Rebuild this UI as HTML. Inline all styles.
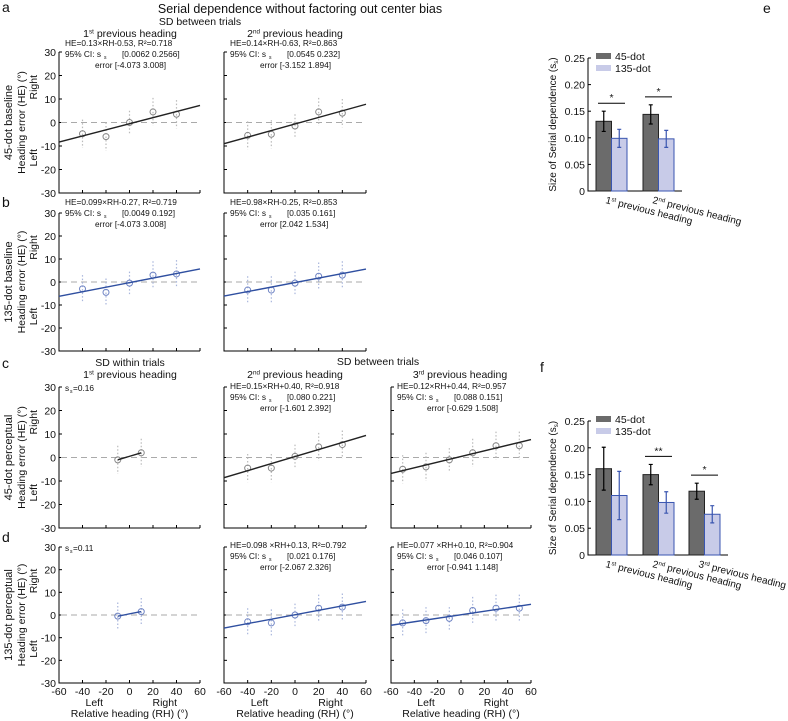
<!DOCTYPE html>
<html><head><meta charset="utf-8"><style>
html,body{margin:0;padding:0;background:#fff}
svg{display:block;font-family:"Liberation Sans",Arial,sans-serif}
</style></head><body>
<svg id="fig" width="788" height="721" viewBox="0 0 788 721" xmlns="http://www.w3.org/2000/svg">
<g id="root"></g>
</svg>
<script>
// ---- scatter data (means at relative headings) ----
const headings5 = [-40, -20, 0, 20, 40];
const headings6 = [-50, -30, -10, 10, 30, 50];
const headings2 = [-10, 10];
const aCol1Means = [-4.8, -6, 0, 4.5, 3.5];
const aCol2Means = [-5.5, -5, -1.5, 4.5, 4];
const bCol1Means = [-3, -4.5, -0.5, 3, 3.5];
const bCol2Means = [-3.5, -3.5, -0.5, 2.5, 3];
const cCol1Means = [-1, 2];
const cCol2Means = [-4.5, -4.5, 0.5, 4.5, 5.5];
const cCol3Means = [-5, -4, -1, 2, 5, 5];
const dCol1Means = [-0.5, 1.5];
const dCol2Means = [-3, -3.5, 0, 3, 3.5];
const dCol3Means = [-3.5, -2.5, -1.5, 2, 3, 3];
const errSpread = [6, 6, 5, 6, 6, 6];
// fits [slope, intercept]
const fitA1 = [0.13, -0.53], fitA2 = [0.14, -0.63];
const fitB1 = [0.099, -0.27], fitB2 = [0.098, -0.25];
const fitC1 = [0.15, 0.5], fitC2 = [0.15, 0.40], fitC3 = [0.12, 0.44];
const fitD1 = [0.1, 0.5], fitD2 = [0.098, 0.13], fitD3 = [0.077, 0.10];
const yTicks = [30, 20, 10, 0, -10, -20, -30];
const xTicks = [-60, -40, -20, 0, 20, 40, 60];
// bar data
const eCategories = ["1st", "2nd"];
const e45 = [0.131, 0.144], e45err = [0.019, 0.018];
const e135 = [0.099, 0.098], e135err = [0.017, 0.016];
const fCategories = ["1st", "2nd", "3rd"];
const f45 = [0.161, 0.150, 0.119], f45err = [0.040, 0.019, 0.015];
const f135 = [0.111, 0.098, 0.076], f135err = [0.045, 0.020, 0.016];
const barTicks = [0, 0.05, 0.10, 0.15, 0.20, 0.25];
const barTickLabels = ["0", "0.05", "0.10", "0.15", "0.20", "0.25"];

const NS = "http://www.w3.org/2000/svg";
const root = document.getElementById("root");
function mk(tag, attrs, parent, text) {
  const e = document.createElementNS(NS, tag);
  for (const k in attrs) e.setAttribute(k, attrs[k]);
  if (text !== undefined) e.textContent = text;
  (parent || root).appendChild(e);
  return e;
}
function txt(x, y, s, size, anchor, parent, name, rot) {
  const t = mk("text", {x: x, y: y, "font-size": size, "text-anchor": anchor || "start", fill: "#111"}, parent, s);
  if (rot) t.setAttribute("transform", "rotate(" + rot + " " + x + " " + y + ")");
  
  
  return t;
}
// ordinal heading text with superscript
function ordTxt(x, y, ord, rest, size, anchor, parent, name, rot) {
  const t = txt(x, y, "", size, anchor, parent, name, rot);
  const n = ord.replace(/[a-z]+/, ""), suf = ord.replace(/[0-9]+/, "");
  mk("tspan", {}, t, n);
  mk("tspan", {"font-size": size * 0.6, dy: -size * 0.35}, t, suf);
  mk("tspan", {dy: size * 0.35}, t, " " + rest);
  return t;
}

const cols = [[59, 200], [224, 366], [391, 531]];
const rows = [[52, 193], [213, 351], [387, 528], [547, 683]];
const annY = [46, 205, 389, 548];
const GRAY = "#222", BLUE = "#2f4fa0";

function panel(name, ci, ri, xs, means, fit, color, fitRange, yLabels, xLabels) {
  const g = mk("g", {});  
  const [x0, x1] = cols[ci], [yT, yB] = rows[ri];
  const X = v => x0 + (v + 60) / 120 * (x1 - x0);
  const Y = v => yT + (30 - v) / 60 * (yB - yT);
  const ax = mk("path", {d: `M${x0} ${yT}V${yB}H${x1}`, stroke: "#000", fill: "none", "stroke-width": 1}, g);
   
  yTicks.forEach(t => {
    mk("line", {x1: x0, x2: x0 + 3, y1: Y(t), y2: Y(t), stroke: "#000"}, g);
    if (yLabels) txt(x0 - 3, Y(t) + 4, String(t), 10.5, "end", g, "y-tick-label");
  });
  xTicks.forEach(t => {
    mk("line", {x1: X(t), x2: X(t), y1: yB, y2: yB - 3, stroke: "#000"}, g);
    if (xLabels) txt(X(t), yB + 12, String(t), 10.5, "middle", g, "x-tick-label");
  });
  const z = mk("line", {x1: x0 + 2, x2: x1, y1: Y(0), y2: Y(0), stroke: "#aaa", "stroke-dasharray": "6 4", "stroke-width": 1}, g);
   
  const light = color === GRAY ? "#bbb" : "#a9b6dc";
  xs.forEach((v, i) => {
    const m = means[i], s = errSpread[i];
    const eb = mk("line", {x1: X(v), x2: X(v), y1: Y(m + s), y2: Y(m - s), stroke: light, "stroke-dasharray": "1.5 2", "stroke-width": 1.2}, g);
     
    const c = mk("circle", {cx: X(v), cy: Y(m), r: 3, fill: "none", stroke: color === GRAY ? "#888" : "#6f84c4", "stroke-width": 1}, g);
     
  });
  const [a, b] = fit, [f0, f1] = fitRange;
  const l = mk("line", {x1: X(f0), x2: X(f1), y1: Y(a * f0 + b), y2: Y(a * f1 + b), stroke: color, "stroke-width": 1.4}, g);
   
  if (xLabels) {
    txt(X(-30), yB + 23, "Left", 10.5, "middle", g, "x-left-label");
    txt(X(30), yB + 23, "Right", 10.5, "middle", g, "x-right-label");
    txt(X(0), yB + 34, "Relative heading (RH) (°)", 10.5, "middle", g, "x-axis-title");
  }
  return g;
}
function annot(ci, ri, l1, ci1, ci2) {
  const x = cols[ci][0] + 6, y = annY[ri];
  txt(x, y, l1, 8.3, "start", null, "fit-equation");
  txt(x, y + 11, "95% CI:  s", 8.3, "start", null, "ci-label");
  txt(x + 39, y + 13, "s", 5, "start", null, "subscript");
  txt(x + 57, y + 11, ci1, 8.3, "start", null, "ci-slope");
  txt(x + 30, y + 22, ci2, 8.3, "start", null, "ci-error");
}
function rowLabels(ri, l1) {
  const [yT, yB] = rows[ri], mid = (yT + yB) / 2, q = (yB - yT) / 4;
  txt(12, mid, l1, 11, "middle", null, "row-label", -90);
  txt(25, mid, "Heading error (HE) (°)", 10.5, "middle", null, "y-axis-title", -90);
  txt(37, yT + q, "Right", 10.5, "middle", null, "y-right-label", -90);
  txt(37, yB - q, "Left", 10.5, "middle", null, "y-left-label", -90);
}

txt(300, 13, "Serial dependence without factoring out center bias", 12.5, "middle", null, "figure-title");
txt(200, 25, "SD between trials", 10.5, "middle", null, "sd-between-title");
ordTxt(130, 37, "1st", "previous heading", 10.5, "middle", null, "col-title-1st");
ordTxt(295, 37, "2nd", "previous heading", 10.5, "middle", null, "col-title-2nd");
txt(2, 12, "a", 14, "start", null, "panel-a-label");
txt(2, 207, "b", 14, "start", null, "panel-b-label");
txt(2, 368, "c", 14, "start", null, "panel-c-label");
txt(2, 542, "d", 14, "start", null, "panel-d-label");
txt(130, 366, "SD within trials", 10.5, "middle", null, "sd-within-title");
ordTxt(130, 378, "1st", "previous heading", 10.5, "middle", null, "col-title-c1");
txt(378, 365, "SD between trials", 10.5, "middle", null, "sd-between-title-c");
ordTxt(295, 378, "2nd", "previous heading", 10.5, "middle", null, "col-title-c2");
ordTxt(460, 378, "3rd", "previous heading", 10.5, "middle", null, "col-title-c3");

rowLabels(0, "45-dot baseline");
rowLabels(1, "135-dot baseline");
rowLabels(2, "45-dot perceptual");
rowLabels(3, "135-dot perceptual");

panel("panel-a-1st", 0, 0, headings5, aCol1Means, fitA1, GRAY, [-60, 60], true, false);
panel("panel-a-2nd", 1, 0, headings5, aCol2Means, fitA2, GRAY, [-60, 60], false, false);
panel("panel-b-1st", 0, 1, headings5, bCol1Means, fitB1, BLUE, [-60, 60], true, false);
panel("panel-b-2nd", 1, 1, headings5, bCol2Means, fitB2, BLUE, [-60, 60], false, false);
panel("panel-c-1st", 0, 2, headings2, cCol1Means, fitC1, GRAY, [-10, 10], true, false);
panel("panel-c-2nd", 1, 2, headings5, cCol2Means, fitC2, GRAY, [-60, 60], false, false);
panel("panel-c-3rd", 2, 2, headings6, cCol3Means, fitC3, GRAY, [-60, 60], false, false);
panel("panel-d-1st", 0, 3, headings2, dCol1Means, fitD1, BLUE, [-10, 10], true, true);
panel("panel-d-2nd", 1, 3, headings5, dCol2Means, fitD2, BLUE, [-60, 60], false, true);
panel("panel-d-3rd", 2, 3, headings6, dCol3Means, fitD3, BLUE, [-60, 60], false, true);

annot(0, 0, "HE=0.13×RH-0.53, R²=0.718", "[0.0062 0.2566]", "error [-4.073 3.008]");
annot(1, 0, "HE=0.14×RH-0.63, R²=0.863", "[0.0545 0.232]", "error [-3.152 1.894]");
annot(0, 1, "HE=0.099×RH-0.27, R²=0.719", "[0.0049 0.192]", "error [-4.073 3.008]");
annot(1, 1, "HE=0.98×RH-0.25, R²=0.853", "[0.035 0.161]", "error [2.042 1.534]");
annot(1, 2, "HE=0.15×RH+0.40, R²=0.918", "[0.080 0.221]", "error [-1.601 2.392]");
annot(2, 2, "HE=0.12×RH+0.44, R²=0.957", "[0.088 0.151]", "error [-0.629 1.508]");
annot(1, 3, "HE=0.098 ×RH+0.13, R²=0.792", "[0.021 0.176]", "error  [-2.067 2.326]");
annot(2, 3, "HE=0.077 ×RH+0.10, R²=0.904", "[0.046 0.107]", "error  [-0.941 1.148]");
txt(65, 391, "s", 8.3, "start", null, "ss-c-label"); txt(70, 393, "s", 5, "start", null, "subscript");
txt(73, 391, "=0.16", 8.3, "start", null, "ss-c-value");
txt(65, 551, "s", 8.3, "start", null, "ss-d-label"); txt(70, 553, "s", 5, "start", null, "subscript");
txt(73, 551, "=0.11", 8.3, "start", null, "ss-d-value");

// ---- bar charts ----
function barChart(name, x0, x1, yT, yB, cats, v45, e45_, v135, e135_, groupStarts, sig) {
  const g = mk("g", {});  
  const Y = v => yB - v / 0.25 * (yB - yT);
  const ax = mk("path", {d: `M${x0} ${yT}V${yB}H${x1}`, stroke: "#000", fill: "none"}, g);
   
  barTicks.forEach((t, i) => {
    mk("line", {x1: x0, x2: x0 + 3, y1: Y(t), y2: Y(t), stroke: "#000"}, g);
    txt(x0 - 3, Y(t) + 4, barTickLabels[i], 10.5, "end", g, "y-tick-label");
  });
  const yt = txt(x0 - 32, (yT + yB) / 2, "", 10, "middle", g, "y-axis-title", -90);
  mk("tspan", {}, yt, "Size of Serial dependence (s");
  mk("tspan", {"font-size": 6, dy: 2}, yt, "s");
  mk("tspan", {dy: -2}, yt, ")");
  const bw = 15.5;
  cats.forEach((c, i) => {
    const gx = groupStarts[i];
    const r1 = mk("rect", {x: gx, y: Y(v45[i]), width: bw, height: Y(0) - Y(v45[i]), fill: "#6b6b6b", stroke: "#222"}, g);
     
    const r2 = mk("rect", {x: gx + bw, y: Y(v135[i]), width: bw, height: Y(0) - Y(v135[i]), fill: "#c8cbe8", stroke: "#3a56b0"}, g);
     
    const c1 = gx + bw / 2, c2 = gx + bw * 1.5;
    mk("path", {d: `M${c1} ${Y(v45[i] + e45_[i])}V${Y(v45[i] - e45_[i])}M${c1 - 2} ${Y(v45[i] + e45_[i])}h4M${c1 - 2} ${Y(v45[i] - e45_[i])}h4`, stroke: "#000", fill: "none", "stroke-width": 1.2}, g);
    mk("path", {d: `M${c2} ${Y(v135[i] + e135_[i])}V${Y(v135[i] - e135_[i])}M${c2 - 2} ${Y(v135[i] + e135_[i])}h4M${c2 - 2} ${Y(v135[i] - e135_[i])}h4`, stroke: "#3a56b0", fill: "none", "stroke-width": 1.2}, g);
    if (sig[i]) {
      const sy = Y(Math.max(v45[i] + e45_[i], v135[i] + e135_[i])) - 8;
      mk("line", {x1: gx + 2, x2: gx + 2 * bw - 2, y1: sy, y2: sy, stroke: "#000"}, g);
      txt(gx + bw, sy - 2, sig[i], 10.5, "middle", g, "significance-marker");
    }
    ordTxt(gx + 9, yB + 12, c, "previous heading", 10, "start", g, "x-category-label", 14);
  });
  const lg = mk("g", {}, g);  
  mk("rect", {x: x0 + 8, y: yT - 5, width: 15, height: 6, fill: "#6b6b6b"}, lg);
  txt(x0 + 27, yT + 2, "45-dot", 10.5, "start", lg, "legend-45dot");
  mk("rect", {x: x0 + 8, y: yT + 7, width: 15, height: 6, fill: "#c8cbe8"}, lg);
  txt(x0 + 27, yT + 14, "135-dot", 10.5, "start", lg, "legend-135dot");
}
barChart("panel-e", 588, 682, 58, 191, eCategories, e45, e45err, e135, e135err, [596, 643], ["*", "*"]);
barChart("panel-f", 588, 728, 421, 555, fCategories, f45, f45err, f135, f135err, [596, 643, 689], ["", "**", "*"]);
txt(763, 13, "e", 14, "start", null, "panel-e-label");
txt(540, 372, "f", 14, "start", null, "panel-f-label");
</script>
</body></html>
